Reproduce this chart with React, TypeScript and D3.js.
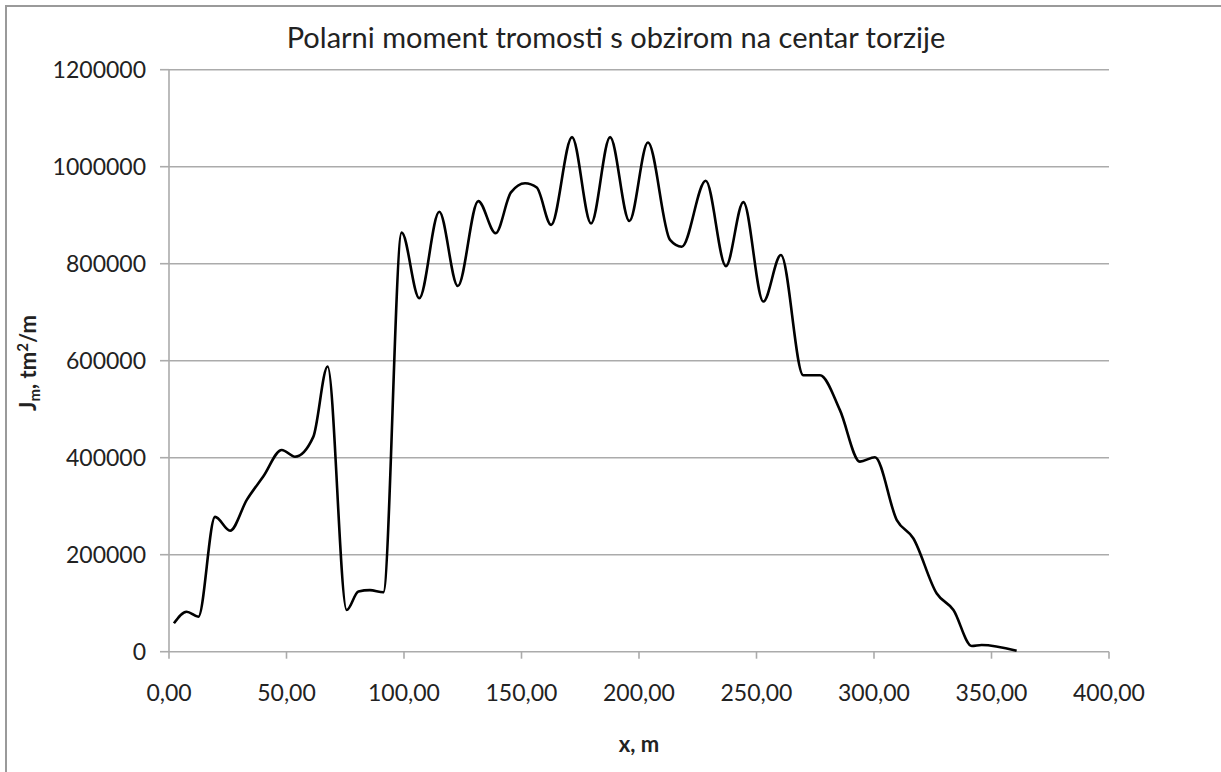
import React from 'react';
import * as d3 from 'd3';

// stations along the length (m) and polar moment of inertia values (tm²/m)
const stations = [
  2.1, 7.5, 12.5, 19.6, 26.0, 33.1, 40.1, 48.0, 53.6, 61.4,
  67.5, 75.6, 80.6, 85.5, 91.2, 99.0, 106.5, 115.0, 122.9, 131.6,
  139.0, 145.5, 151.5, 156.5, 162.6, 171.5, 179.6, 187.7, 195.9, 203.8,
  213.2, 218.2, 228.4, 237.0, 244.4, 252.9, 260.4, 269.9, 277.0, 285.5,
  294.0, 300.4, 309.7, 316.7, 326.7, 333.8, 341.6, 345.8, 360.7,
];
const jmValues = [
  58600, 82500, 72200, 278000, 249500, 313000, 361000, 416000, 402000, 443000,
  588000, 86000, 124000, 127000, 122500, 864000, 729000, 907000, 754000, 929000,
  863000, 947000, 966000, 957000, 880000, 1061000, 883000, 1061000, 888000, 1050000,
  849000, 835000, 971000, 795000, 927000, 722000, 818000, 570000, 570000, 498000,
  392000, 401000, 271500, 234000, 120000, 86000, 11700, 13800, 2000,
];

const xTicks = [0, 50, 100, 150, 200, 250, 300, 350, 400];
const yTicks = [0, 200000, 400000, 600000, 800000, 1000000, 1200000];

const title = 'Polarni moment tromosti s obzirom na centar torzije';
const xTitle = 'x, m';

export default function App() {
  const W = 1221;
  const H = 772;
  const font = 'Lato, "Open Sans", sans-serif';

  const x = d3.scaleLinear().domain([0, 400]).range([169, 1109]);
  const y = d3.scaleLinear().domain([0, 1200000]).range([651.7, 69.7]);

  const points = stations.map((s, i) => [s, jmValues[i]] as [number, number]);
  const line = d3
    .line<[number, number]>()
    .x((d) => x(d[0]))
    .y((d) => y(d[1]))
    .curve(d3.curveMonotoneX);

  const fmtX = (v: number) => v.toFixed(2).replace('.', ',');
  const grid = '#ababab';

  return (
    <svg
      width={W}
      height={H}
      style={{ position: 'absolute', left: 0, top: 0, background: '#fff' }}
    >
      <rect x={6} y={6} width={1230} height={780} fill="#fff" stroke="#9a9a9a" strokeWidth={2} />

      {/* horizontal gridlines */}
      {yTicks.map((t) => (
        <line key={'g' + t} x1={x(0)} x2={x(400)} y1={y(t)} y2={y(t)} stroke={grid} strokeWidth={1.6} />
      ))}

      {/* y axis */}
      <line x1={x(0)} x2={x(0)} y1={y(0)} y2={y(1200000)} stroke={grid} strokeWidth={1.6} />
      {yTicks.map((t) => (
        <g key={'y' + t}>
          <line x1={x(0) - 9} x2={x(0)} y1={y(t)} y2={y(t)} stroke={grid} strokeWidth={1.6} />
          <text x={146} y={y(t) + 8} textAnchor="end" fontFamily={font} fontSize={23} fill="#222">
            {t}
          </text>
        </g>
      ))}

      {/* x axis */}
      {xTicks.map((t) => (
        <g key={'x' + t}>
          <line x1={x(t)} x2={x(t)} y1={y(0)} y2={y(0) + 7} stroke={grid} strokeWidth={1.6} />
          <text x={x(t)} y={701} textAnchor="middle" fontFamily={font} fontSize={23} fill="#222">
            {fmtX(t)}
          </text>
        </g>
      ))}

      <path d={line(points) || ''} fill="none" stroke="#000" strokeWidth={2.6} strokeLinejoin="round" />

      <text x={616} y={48} textAnchor="middle" fontFamily={font} fontSize={29} fill="#222">
        {title}
      </text>

      <text x={639} y={752} textAnchor="middle" fontFamily={font} fontSize={22} fontWeight="bold" fill="#222">
        {xTitle}
      </text>

      <text
        transform="translate(36,363) rotate(-90)"
        textAnchor="middle"
        fontFamily={font}
        fontSize={22}
        fontWeight="bold"
        fill="#222"
      >
        J<tspan fontSize={15} baselineShift="-4">m</tspan>
        <tspan>, tm</tspan>
        <tspan fontSize={15} baselineShift="8">2</tspan>
        <tspan>/m</tspan>
      </text>
    </svg>
  );
}
